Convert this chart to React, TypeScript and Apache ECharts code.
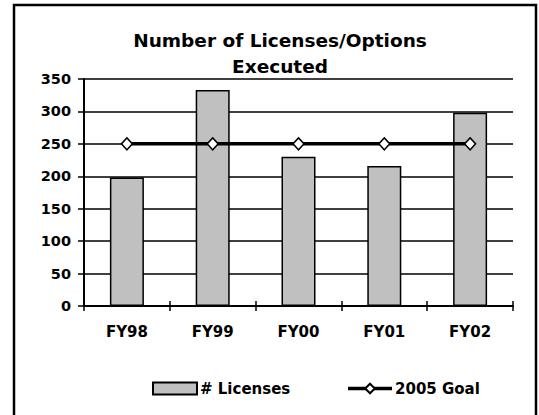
import React, { useEffect, useRef } from "react";
import * as echarts from "echarts";

const categories = ["FY98", "FY99", "FY00", "FY01", "FY02"];
const licenses = [198, 333, 230, 216, 298];
const goal = [250, 250, 250, 250, 250];
const titleText = "Number of Licenses/Options\nExecuted";

const FONT = "'DejaVu Sans', Arial, sans-serif";

export default function App() {
  const ref = useRef<HTMLDivElement>(null);
  useEffect(() => {
    if (!ref.current) return;
    const chart = echarts.init(ref.current, null, { renderer: "svg" });
    chart.setOption({
      animation: false,
      backgroundColor: "#ffffff",
      title: {
        text: titleText,
        left: 275,
        top: 22,
        textAlign: "center",
        textStyle: {
          fontFamily: FONT,
          fontWeight: "bold",
          fontSize: 18.5,
          lineHeight: 26,
          color: "#000",
        },
      },
      graphic: [
        {
          type: "rect",
          shape: { x: 14, y: 5, width: 522, height: 430 },
          style: { fill: "none", stroke: "#000", lineWidth: 2.5 },
          silent: true,
        },
      ],
      legend: {
        left: 147,
        top: 376,
        itemWidth: 44,
        itemHeight: 12,
        itemGap: 56,
        textStyle: {
          fontFamily: FONT,
          fontWeight: "bold",
          fontSize: 15,
          color: "#000",
          padding: [0, 0, 0, -2],
        },
        data: [
          { name: "# Licenses", icon: "rect" },
          { name: "2005 Goal", lineStyle: { width: 3.5, color: "#000" } },
        ],
      },
      grid: { left: 84, right: 26, top: 79, bottom: 109 },
      xAxis: [
        {
          type: "category",
          data: categories,
          position: "bottom",
          axisLine: { lineStyle: { color: "#000", width: 2 } },
          axisTick: { show: true, inside: false, length: 5, lineStyle: { color: "#000", width: 1.5 } },
          axisLabel: {
            margin: 18,
            fontFamily: FONT,
            fontWeight: "bold",
            fontSize: 15,
            color: "#000",
          },
          splitLine: { show: false },
        },
        {
          type: "category",
          data: categories,
          position: "bottom",
          offset: 0,
          axisLine: { show: false },
          axisTick: { show: true, inside: true, length: 5, lineStyle: { color: "#000", width: 1.5 } },
          axisLabel: { show: false },
          splitLine: { show: false },
        },
      ],
      yAxis: {
        type: "value",
        min: 0,
        max: 350,
        interval: 50,
        axisLine: { show: true, lineStyle: { color: "#000", width: 2 } },
        axisTick: { show: true, length: 6, lineStyle: { color: "#000", width: 1.5 } },
        axisLabel: {
          margin: 13,
          fontFamily: FONT,
          fontWeight: "bold",
          fontSize: 14.5,
          color: "#000",
        },
        splitLine: { show: true, lineStyle: { color: "#000", width: 1.5 } },
      },
      series: [
        {
          name: "# Licenses",
          type: "bar",
          data: licenses,
          barWidth: 34,
          itemStyle: { color: "#c0c0c0", borderColor: "#000", borderWidth: 1.5 },
          z: 3,
        },
        {
          name: "2005 Goal",
          type: "line",
          data: goal,
          symbol: "diamond",
          symbolSize: [11, 12],
          showAllSymbol: true,
          lineStyle: { color: "#000", width: 3.5 },
          itemStyle: { color: "#fff", borderColor: "#000", borderWidth: 1.5 },
          z: 4,
        },
      ],
    });
    return () => chart.dispose();
  }, []);
  return (
    <div
      ref={ref}
      style={{ position: "absolute", left: 0, top: 0, width: 539, height: 415 }}
    />
  );
}
